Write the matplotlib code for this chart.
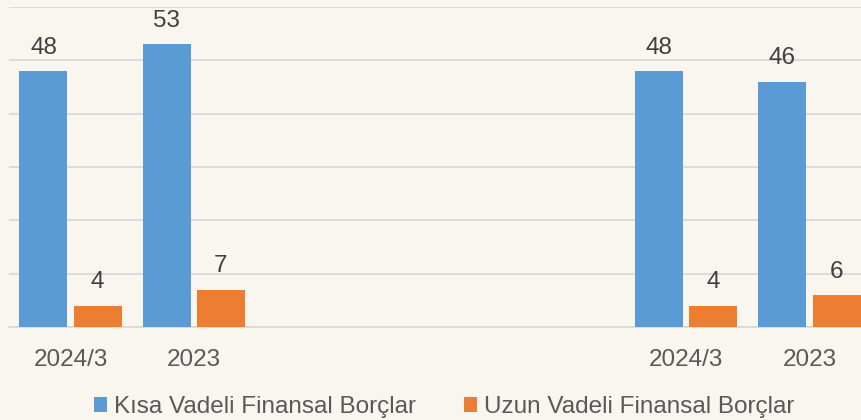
import matplotlib
matplotlib.use("Agg")
import matplotlib.pyplot as plt
import numpy as np

plt.rcParams['font.family'] = ['Liberation Sans', 'DejaVu Sans']

# data
categories = ['2024/3', '2023', '', '', '', '2024/3', '2023']
short_term = [48, 53, None, None, None, 48, 46]
long_term = [4, 7, None, None, None, 4, 6]
series_names = ['Kısa Vadeli Finansal Borçlar', 'Uzun Vadeli Finansal Borçlar']

bg = '#F9F6EF'
blue = '#5B9BD5'
orange = '#ED7D31'
txt = '#404040'

fig = plt.figure(figsize=(8.62, 4.2), dpi=100, facecolor=bg)
# axes spans 7 categories, last one cut off at the right edge
ax = fig.add_axes([9/862, (420-327)/420, 862/862, (327-7)/420])
ax.set_facecolor(bg)

x = np.arange(len(categories))
idx = [i for i, v in enumerate(short_term) if v is not None]
xs = x[idx]
s_vals = [short_term[i] for i in idx]
l_vals = [long_term[i] for i in idx]

w = 0.39
off = 0.22
b1 = ax.bar(xs - off, s_vals, w, color=blue, label=series_names[0], zorder=3)
b2 = ax.bar(xs + off, l_vals, w, color=orange, label=series_names[1], zorder=3)

for bars in (b1, b2):
    for r in bars:
        ax.text(r.get_x() + r.get_width()/2, r.get_height() + 2.3, f'{r.get_height():.0f}',
                ha='center', va='bottom', fontsize=17.5, color=txt)

ax.set_xlim(-0.5, 6.5)
ax.set_ylim(0, 60)
ax.set_yticks(np.arange(0, 61, 10))
ax.yaxis.grid(True, color='#D9D9D9', linewidth=1.3, zorder=0)
ax.tick_params(axis='y', left=False, labelleft=False)
ax.set_xticks(x)
ax.set_xticklabels(categories, fontsize=17.5, color='#595959')
ax.tick_params(axis='x', length=0, pad=16)
for s in ['top', 'right', 'left']:
    ax.spines[s].set_visible(False)
ax.spines['bottom'].set_color('#D9D9D9')
ax.spines['bottom'].set_linewidth(1.3)

fig.legend(handles=[b1, b2], loc='center', bbox_to_anchor=(444/862, 1 - 407/420),
           ncol=2, frameon=False, fontsize=17.5, handlelength=0.55, handleheight=0.55,
           handletextpad=0.25, columnspacing=2.0, labelcolor='#595959')

fig.savefig('out.png', dpi=100, facecolor=bg)
